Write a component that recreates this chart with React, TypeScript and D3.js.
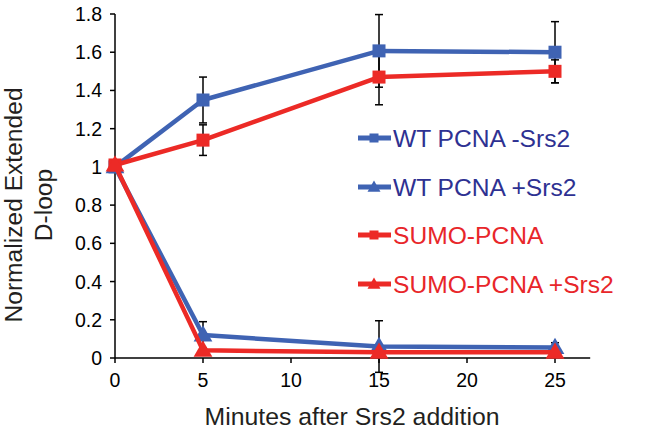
import React from "react";
import * as d3 from "d3";

const minutes = [0, 5, 15, 25];
const xTicks = [0, 5, 10, 15, 20, 25];
const yTicks = [0, 0.2, 0.4, 0.6, 0.8, 1, 1.2, 1.4, 1.6, 1.8];

const wtMinus = [1.0, 1.35, 1.607, 1.6];
const wtMinusErr = [0, 0.12, 0.19, 0.16];
const wtPlus = [1.0, 0.12, 0.06, 0.055];
const wtPlusErr = [0, 0.07, 0.135, 0.025];
const sumo = [1.01, 1.14, 1.47, 1.5];
const sumoErr = [0, 0.08, 0.145, 0.06];
const sumoPlus = [1.01, 0.04, 0.03, 0.03];
const sumoPlusErr = [0, 0.01, 0.01, 0.01];

const seriesNames = ["WT PCNA -Srs2", "WT PCNA +Srs2", "SUMO-PCNA", "SUMO-PCNA +Srs2"];

const BLUE = "#3F63B3";
const RED = "#EC2A26";
const BLUE_TEXT = "#2E3192";
const RED_TEXT = "#E8262A";

const series = [
  { name: seriesNames[0], values: wtMinus, err: wtMinusErr, color: BLUE, text: BLUE_TEXT, shape: "square" },
  { name: seriesNames[1], values: wtPlus, err: wtPlusErr, color: BLUE, text: BLUE_TEXT, shape: "triangle" },
  { name: seriesNames[2], values: sumo, err: sumoErr, color: RED, text: RED_TEXT, shape: "square" },
  { name: seriesNames[3], values: sumoPlus, err: sumoPlusErr, color: RED, text: RED_TEXT, shape: "triangle" },
];

const FONT = "'Liberation Sans', Arial, sans-serif";

export default function App() {
  const x = d3.scaleLinear().domain([0, 27]).range([115, 590.2]);
  const y = d3.scaleLinear().domain([0, 1.8]).range([358, 14]);
  const line = d3
    .line<number>()
    .x((_, i) => x(minutes[i]))
    .y((d) => y(d));

  const marker = (shape: string, cx: number, cy: number, color: string, size: number, key: string) => {
    if (shape === "square") {
      return <rect key={key} x={cx - size / 2} y={cy - size / 2} width={size} height={size} fill={color} />;
    }
    const area = size * size * 0.9;
    const p = d3.symbol().type(d3.symbolTriangle).size(area)();
    return <path key={key} d={p || ""} transform={`translate(${cx},${cy + 1})`} fill={color} />;
  };

  const legendY = [138, 187, 235, 284];

  return (
    <svg width={660} height={441} style={{ position: "absolute", left: 0, top: 0, background: "#fff" }}>
      {/* axes */}
      <line x1={x(0)} x2={x(0)} y1={y(0)} y2={y(1.8)} stroke="#000" strokeWidth={1.5} />
      <line x1={x(0)} x2={x(27)} y1={y(0)} y2={y(0)} stroke="#000" strokeWidth={1.5} />
      {yTicks.map((t) => (
        <g key={"yt" + t}>
          <line x1={x(0) - 5} x2={x(0)} y1={y(t)} y2={y(t)} stroke="#000" strokeWidth={1.5} />
          <text x={102} y={y(t) + 7} textAnchor="end" fontFamily={FONT} fontSize={19.5} fill="#000">
            {d3.format("")(t)}
          </text>
        </g>
      ))}
      {xTicks.map((t) => (
        <g key={"xt" + t}>
          <line x1={x(t)} x2={x(t)} y1={y(0)} y2={y(0) + 5} stroke="#000" strokeWidth={1.5} />
          <text x={x(t)} y={387} textAnchor="middle" fontFamily={FONT} fontSize={19.5} fill="#000">
            {t}
          </text>
        </g>
      ))}
      <text x={352} y={425} textAnchor="middle" fontFamily={FONT} fontSize={24.8} fill="#231F20">
        Minutes after Srs2 addition
      </text>
      <text transform="translate(22,205) rotate(-90)" textAnchor="middle" fontFamily={FONT} fontSize={24.6} fill="#231F20">
        Normalized Extended
      </text>
      <text transform="translate(52,205) rotate(-90)" textAnchor="middle" fontFamily={FONT} fontSize={24.6} fill="#231F20">
        D-loop
      </text>

      {/* error bars */}
      {series.map((s, si) =>
        s.values.map((v, i) =>
          s.err[i] > 0 ? (
            <g key={`e${si}-${i}`} stroke="#000" strokeWidth={1.5}>
              <line x1={x(minutes[i])} x2={x(minutes[i])} y1={y(v - s.err[i])} y2={y(v + s.err[i])} />
              <line x1={x(minutes[i]) - 4} x2={x(minutes[i]) + 4} y1={y(v + s.err[i])} y2={y(v + s.err[i])} />
              <line x1={x(minutes[i]) - 4} x2={x(minutes[i]) + 4} y1={y(v - s.err[i])} y2={y(v - s.err[i])} />
            </g>
          ) : null
        )
      )}

      {/* lines and markers */}
      {series.map((s, si) => (
        <g key={"s" + si}>
          <path d={line(s.values) || ""} fill="none" stroke={s.color} strokeWidth={4.5} strokeLinejoin="round" />
          {s.values.map((v, i) => marker(s.shape, x(minutes[i]), y(v), s.color, 13, `m${si}-${i}`))}
        </g>
      ))}

      {/* legend */}
      {series.map((s, si) => (
        <g key={"l" + si}>
          <line x1={358} x2={391} y1={legendY[si]} y2={legendY[si]} stroke={s.color} strokeWidth={5} />
          {marker(s.shape, 374, legendY[si], s.color, 9, "lm" + si)}
          <text x={393} y={legendY[si] + 9} fontFamily={FONT} fontSize={24.6} fill={s.text}>
            {s.name}
          </text>
        </g>
      ))}
    </svg>
  );
}
